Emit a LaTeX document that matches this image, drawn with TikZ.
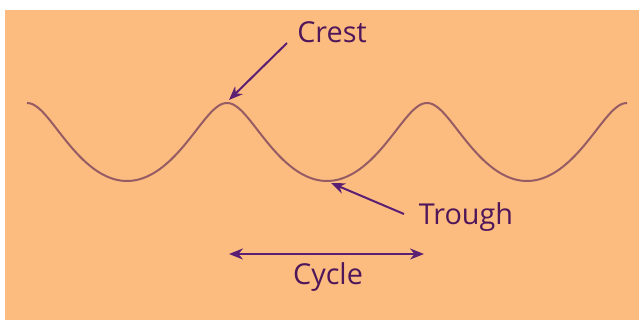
\documentclass[tikz,border=0pt]{standalone}
\usepackage{fontspec}
\setmainfont{Open Sans}
\usepackage{xcolor}
\usepackage{tikz}
\usetikzlibrary{arrows.meta}

\definecolor{bgorange}{RGB}{252,188,128}
\definecolor{wavebrown}{RGB}{150,92,100}
\definecolor{textpurple}{RGB}{80,22,90}
\definecolor{arrowpurple}{RGB}{90,30,115}

\begin{document}
\begin{tikzpicture}[x=0.5pt, y=-0.5pt,
        wavetext/.style={text=textpurple, font=\fontsize{14.4}{17}\selectfont, anchor=base, inner sep=0pt},
        arrowline/.style={draw=arrowpurple, line width=1pt, -{Stealth[length=7pt, width=5.5pt]}}]
        % Background
        \useasboundingbox (0,0) rectangle (639,320);
        \fill[bgorange] (5,10) rectangle (639,320);

        % Wave
        \draw[wavebrown, line width=1pt] plot[domain=0:1080, samples=241, variable=\t]
            ({27+\t/1.8-10*sin(\t)}, {142-39*cos(\t)});

        % Crest
        \node[wavetext] (crest) at (332,43) {Crest};
        \coordinate (crestTail) at (287,43);
        \coordinate (crestTip) at (229,100);
        \draw[arrowline] (crestTail) -- (crestTip);

        % Trough
        \node[wavetext] (trough) at (466,225) {Trough};
        \coordinate (troughTail) at (404,214);
        \coordinate (troughTip) at (331,183);
        \draw[arrowline] (troughTail) -- (troughTip);

        % Cycle
        \node[wavetext] (cycle) at (328,285) {Cycle};
        \coordinate (cycleLeft) at (229,254);
        \coordinate (cycleRight) at (424,254);
        \draw[arrowline, {Stealth[length=7pt, width=5.5pt]}-{Stealth[length=7pt, width=5.5pt]}] (cycleLeft) -- (cycleRight);
    \end{tikzpicture}
\end{document}
